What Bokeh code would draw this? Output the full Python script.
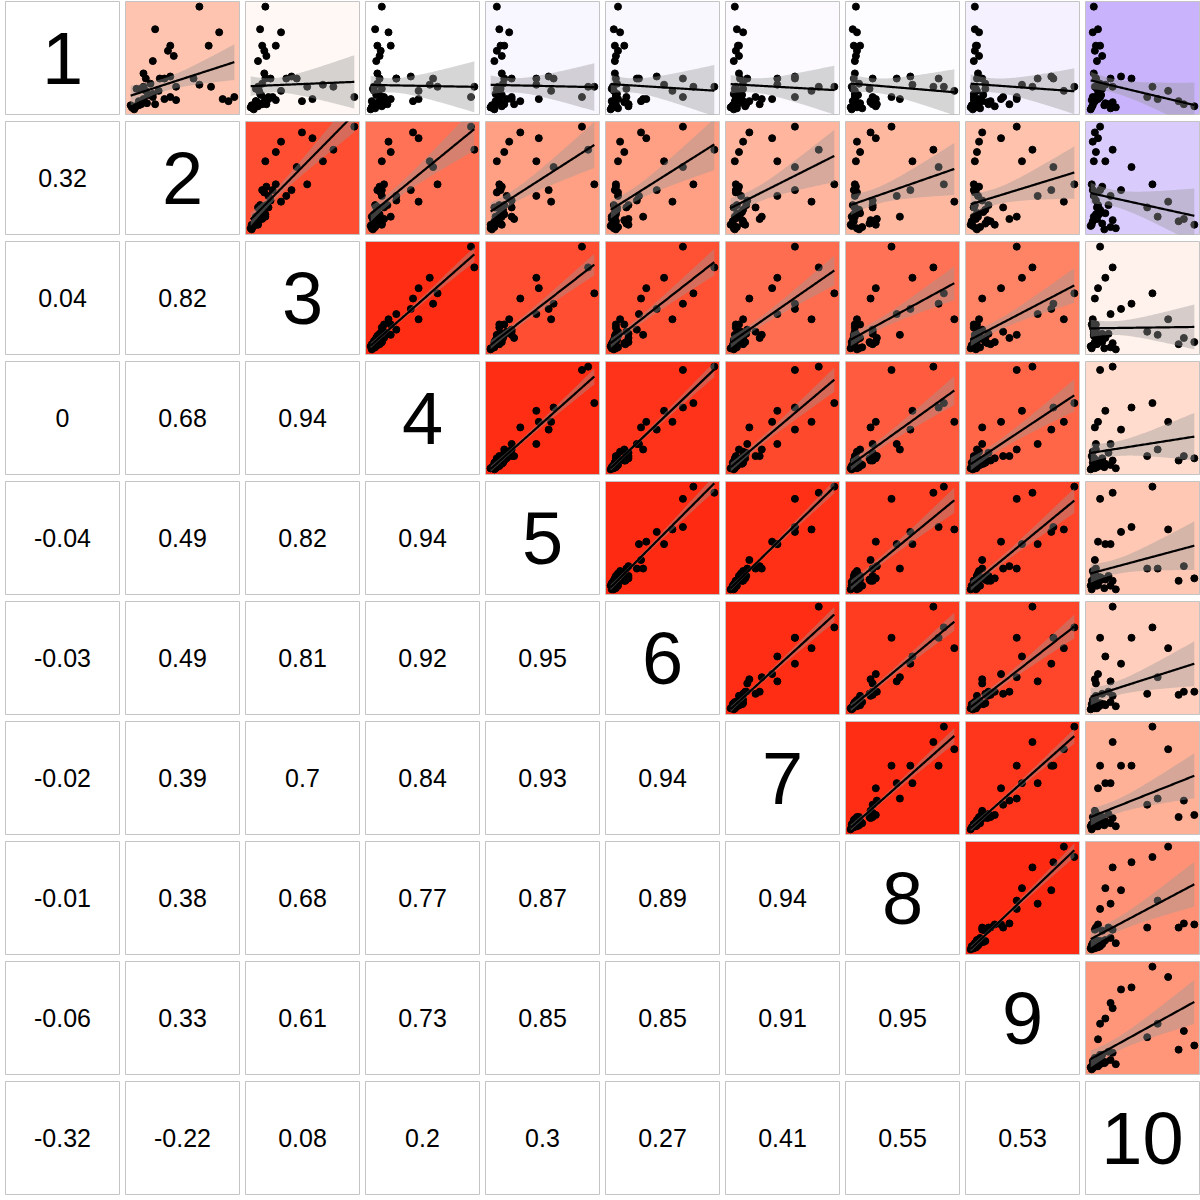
import numpy as np
from bokeh.plotting import figure
from bokeh.layouts import gridplot
from bokeh.models import Range1d
from bokeh.core.properties import value
from bokeh.embed import file_html
from bokeh.resources import INLINE

var_names = ["1", "2", "3", "4", "5", "6", "7", "8", "9", "10"]

v1 = [12, 22, 22, 18, 10, 30, 24, 32, 8, 30, 100, 78, 75, 62, 62, 57, 52, 47, 3, 5, 8, 10, 12,
      2, 8, 15, 4, 25, 10, 20, 30, 6, 1, 12, 20, 5, 18, 9, 2, 35, 7, 14, 0, 22, 30, 4]
v2 = [90, 70, 40, 25, 80, 55, 60, 35, 85, 30, 60, 22, 77, 68, 35, 33, 38, 20, 5, 10, 8, 12, 20,
      5, 12, 20, 8, 18, 30, 6, 14, 15, 3, 35, 10, 22, 14, 40, 2, 12, 9, 16, 4, 12, 26, 1]
v3 = [100, 80, 55, 30, 60, 45, 70, 40, 50, 35, 15, 10, 30, 25, 12, 14, 16, 8, 8, 12, 6, 15, 18,
      2, 6, 10, 5, 12, 18, 8, 15, 12, 3, 22, 6, 16, 9, 25, 1, 14, 7, 11, 4, 8, 20, 2]
v4 = [92, 95, 62, 45, 45, 58, 55, 38, 40, 25, 12, 6, 18, 20, 8, 11, 10, 7, 12, 14, 10, 20, 14,
      3, 3, 9, 8, 8, 12, 12, 10, 7, 6, 12, 4, 17, 5, 14, 3, 8, 10, 7, 2, 5, 25, 4]
v5 = [75, 80, 85, 50, 40, 52, 38, 48, 25, 38, 6, 8, 16, 12, 9, 6, 10, 4, 10, 20, 8, 18, 18,
      1, 5, 5, 4, 11, 14, 9, 12, 9, 4, 8, 6, 12, 8, 8, 1, 10, 8, 10, 4, 7, 18, 2]
v6 = [70, 100, 80, 60, 35, 70, 52, 45, 30, 28, 8, 4, 10, 14, 5, 8, 6, 5, 18, 18, 15, 32, 16,
      2, 2, 7, 6, 7, 8, 16, 6, 5, 8, 6, 2, 18, 4, 6, 4, 5, 14, 6, 1, 3, 26, 6]
v7 = [62, 85, 100, 78, 40, 62, 45, 62, 18, 45, 4, 6, 12, 8, 7, 5, 8, 3, 14, 28, 12, 30, 24,
      0, 4, 3, 2, 12, 10, 12, 9, 8, 6, 5, 4, 15, 6, 5, 3, 8, 11, 11, 3, 5, 16, 4]
v8 = [40, 80, 90, 100, 25, 85, 60, 58, 20, 45, 6, 3, 7, 10, 4, 7, 6, 5, 25, 26, 22, 48, 22,
      1, 3, 5, 4, 9, 5, 19, 4, 10, 12, 5, 3, 22, 5, 5, 7, 5, 20, 8, 2, 2, 22, 9]
v9 = [45, 60, 100, 90, 30, 80, 50, 78, 12, 65, 5, 5, 9, 7, 6, 5, 9, 4, 24, 38, 20, 45, 32,
      1, 6, 4, 2, 15, 8, 15, 7, 8, 10, 4, 6, 18, 7, 4, 6, 8, 17, 13, 3, 4, 12, 7]
v10 = [10, 22, 60, 75, 8, 40, 15, 30, 5, 20, 4, 8, 3, 6, 10, 5, 12, 7, 100, 90, 85, 65, 55,
       2, 5, 8, 3, 10, 4, 12, 6, 15, 20, 3, 7, 18, 9, 2, 25, 4, 22, 11, 1, 5, 6, 14]

# correlation labels of the lower triangle, row by row (row 2 .. row 10)
corr_row2 = ["0.32"]
corr_row3 = ["0.04", "0.82"]
corr_row4 = ["0", "0.68", "0.94"]
corr_row5 = ["-0.04", "0.49", "0.82", "0.94"]
corr_row6 = ["-0.03", "0.49", "0.81", "0.92", "0.95"]
corr_row7 = ["-0.02", "0.39", "0.7", "0.84", "0.93", "0.94"]
corr_row8 = ["-0.01", "0.38", "0.68", "0.77", "0.87", "0.89", "0.94"]
corr_row9 = ["-0.06", "0.33", "0.61", "0.73", "0.85", "0.85", "0.91", "0.95"]
corr_row10 = ["-0.32", "-0.22", "0.08", "0.2", "0.3", "0.27", "0.41", "0.55", "0.53"]

variables = [v1, v2, v3, v4, v5, v6, v7, v8, v9, v10]
corr_rows = [[], corr_row2, corr_row3, corr_row4, corr_row5, corr_row6,
             corr_row7, corr_row8, corr_row9, corr_row10]
nv = len(var_names)
data = [np.array(v, dtype=float) for v in variables]

FONT = value("Liberation Sans")
BORDER = "#c4c4c4"


def corr_color(r):
    if r >= 0:
        g = 255 - 164 * r - 63 * r * r
        b = 255 - 250 * r
        rr = 255
    else:
        a = -r
        rr = 255 - 170 * a
        g = 255 - 237 * a
        b = 255 - 10 * a
    c = [int(round(min(255, max(0, t)))) for t in (rr, g, b)]
    return "#%02x%02x%02x" % tuple(c)


def base_fig(bg, xr, yr):
    p = figure(width=120, height=120, x_axis_location=None, y_axis_location=None,
               toolbar_location=None, output_backend="svg",
               min_border_left=5, min_border_right=1, min_border_top=1, min_border_bottom=6,
               background_fill_color=bg, border_fill_color="white",
               outline_line_color=BORDER, outline_line_width=1,
               x_range=xr, y_range=yr)
    p.grid.visible = False
    return p


def expand(a, f=0.05):
    lo, hi = float(np.min(a)), float(np.max(a))
    span = hi - lo if hi > lo else 1.0
    return Range1d(lo - f * span, hi + f * span)


TQ = 2.015  # t quantile (0.975, df = n - 2)

rows = []
for i in range(nv):
    row = []
    for j in range(nv):
        if i == j:
            p = base_fig("white", Range1d(0, 1), Range1d(0, 1))
            p.text(x=[0.5], y=[0.5], text=[var_names[i]], text_align="center",
                   text_baseline="middle", text_font_size="74px", text_font=FONT,
                   text_color="black")
        elif i > j:
            p = base_fig("white", Range1d(0, 1), Range1d(0, 1))
            p.text(x=[0.5], y=[0.5], text=[corr_rows[i][j]], text_align="center",
                   text_baseline="middle", text_font_size="25px", text_font=FONT,
                   text_color="black")
        else:
            r = float(corr_rows[j][i])
            x = data[j]
            y = data[i]
            p = base_fig(corr_color(r), expand(x), expand(y))
            p.scatter(x=x, y=y, size=7, color="black")
            n = len(x)
            xm = x.mean()
            sxx = ((x - xm) ** 2).sum()
            b1 = ((x - xm) * (y - y.mean())).sum() / sxx
            b0 = y.mean() - b1 * xm
            resid = y - (b0 + b1 * x)
            s = np.sqrt((resid ** 2).sum() / (n - 2))
            xs = np.linspace(x.min(), x.max(), 80)
            ys = b0 + b1 * xs
            se = s * np.sqrt(1.0 / n + (xs - xm) ** 2 / sxx)
            p.varea(x=xs, y1=ys - TQ * se, y2=ys + TQ * se, fill_color="#999999",
                    fill_alpha=0.4)
            p.line(x=xs, y=ys, line_color="black", line_width=2.2)
        row.append(p)
    rows.append(row)

grid = gridplot(rows, toolbar_location=None)
open("out.html", "w").write(file_html(grid, INLINE))
